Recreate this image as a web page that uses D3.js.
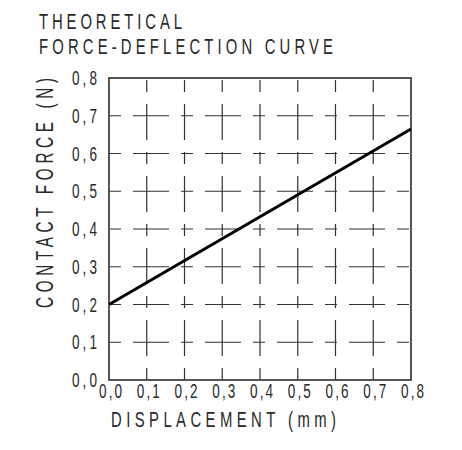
<!DOCTYPE html>
<html>
<head>
<meta charset="utf-8">
<script src="https://cdn.jsdelivr.net/npm/d3@7"></script>
<style>
  body { margin: 0; background: #fff; }
  text { font-family: "Liberation Sans", "DejaVu Sans", sans-serif; fill: #2a2a2a; }
</style>
</head>
<body>
<div id="chart"></div>
<script>
// data
var displacement = [0.0, 0.8];          // mm
var contactForce = [0.2, 0.665];        // N
var xTicks = [0, 0.1, 0.2, 0.3, 0.4, 0.5, 0.6, 0.7, 0.8];
var yTicks = [0, 0.1, 0.2, 0.3, 0.4, 0.5, 0.6, 0.7, 0.8];
var titleLines = ["THEORETICAL", "FORCE-DEFLECTION CURVE"];
var xTitle = "DISPLACEMENT (mm)";
var yTitle = "CONTACT FORCE (N)";

var width = 462,
    height = 450,
    squeeze = 0.66;   // narrow drafting-style lettering

var x = d3.scaleLinear().domain([0, 0.8]).range([109, 411]);
var y = d3.scaleLinear().domain([0, 0.8]).range([380, 78]);

var fmt = function (d) { return d3.format(".1f")(d).replace(".", ","); };

var svg = d3.select("#chart").append("svg")
    .attr("width", width)
    .attr("height", height);

// place a narrow text: tr = transform before squeezing, len = final width on screen
function label(parent, tr, str, size, len, anchor) {
    parent.append("g")
        .attr("transform", tr + " scale(" + squeeze + ",1)")
        .append("text")
        .attr("text-anchor", anchor || "start")
        .attr("textLength", len / squeeze)
        .attr("lengthAdjust", "spacing")
        .style("font-size", size + "px")
        .text(str);
}

// title, two lines
titleLines.forEach(function (d, i) {
    label(svg, "translate(39," + (29 + i * 25) + ")", d, 22.5, i === 0 ? 143 : 294);
});

// center-line style grid (short - long dashes)
svg.append("g")
    .selectAll("line")
    .data(xTicks.slice(1, -1))
    .enter().append("line")
    .attr("x1", function (d) { return x(d); })
    .attr("x2", function (d) { return x(d); })
    .attr("y1", y(0))
    .attr("y2", y(0.8))
    .style("stroke", "#333")
    .style("stroke-width", 1.2)
    .style("stroke-dasharray", "12,12,36,12");

svg.append("g")
    .selectAll("line")
    .data(yTicks.slice(1, -1))
    .enter().append("line")
    .attr("y1", function (d) { return y(d); })
    .attr("y2", function (d) { return y(d); })
    .attr("x1", x(0))
    .attr("x2", x(0.8))
    .style("stroke", "#333")
    .style("stroke-width", 1.2)
    .style("stroke-dasharray", "12,12,36,12");

// frame
svg.append("rect")
    .attr("x", x(0))
    .attr("y", y(0.8))
    .attr("width", x(0.8) - x(0))
    .attr("height", y(0) - y(0.8))
    .style("fill", "none")
    .style("stroke", "#444")
    .style("stroke-width", 1.8);

// curve
var pts = displacement.map(function (d, i) { return [d, contactForce[i]]; });
svg.append("path")
    .datum(pts)
    .attr("d", d3.line()
        .x(function (d) { return x(d[0]); })
        .y(function (d) { return y(d[1]); }))
    .style("fill", "none")
    .style("stroke", "#000")
    .style("stroke-width", 3);

// tick labels
var gx = svg.append("g");
xTicks.forEach(function (d) {
    label(gx, "translate(" + (x(d) + 1.5) + ",398)", fmt(d), 20.5, 23, "middle");
});

var gy = svg.append("g");
yTicks.forEach(function (d) {
    label(gy, "translate(97," + (y(d) + 7.2) + ")", fmt(d), 20.5, 25, "end");
});

// axis titles
label(svg, "translate(111,427)", xTitle, 22.5, 225);
label(svg, "translate(53,308) rotate(-90)", yTitle, 23, 230);
</script>
</body>
</html>
